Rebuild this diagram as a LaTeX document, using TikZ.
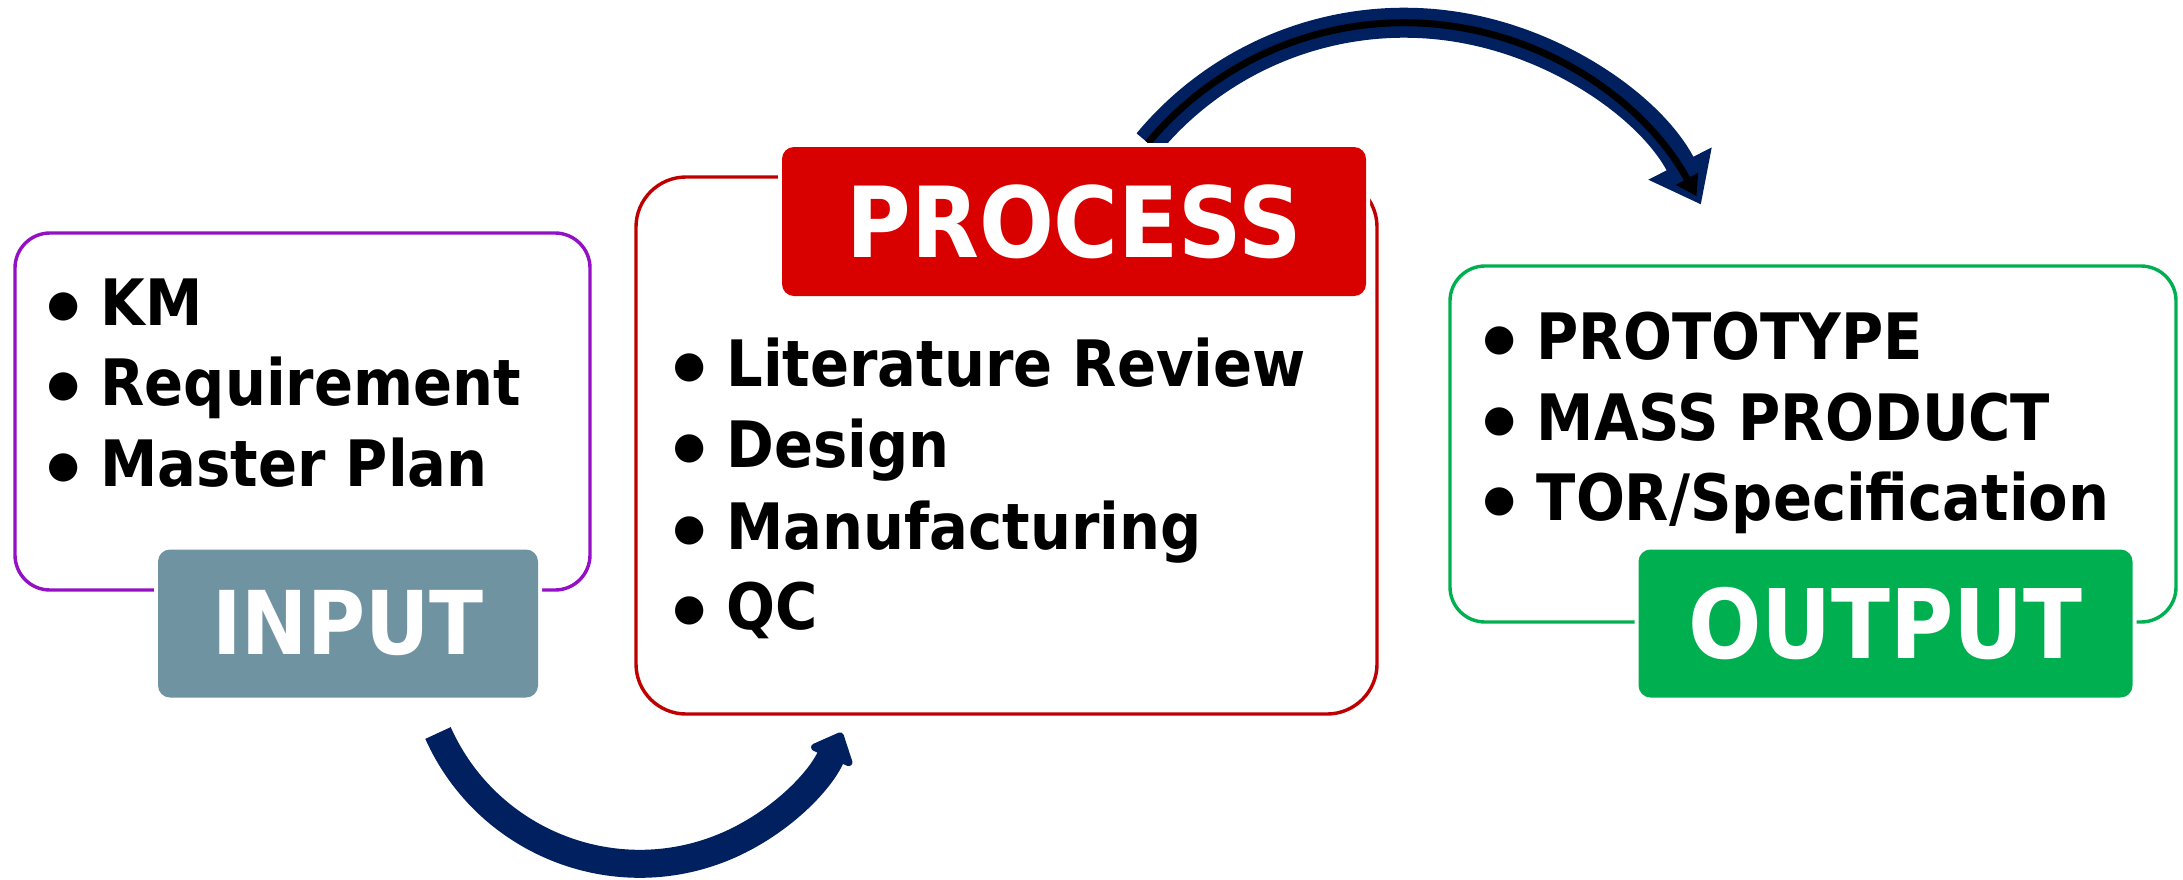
\documentclass[tikz,border=0pt]{standalone}
\usepackage{fontspec}
\usetikzlibrary{arrows.meta}
\newfontfamily\tfont{DejaVu Sans Condensed Bold}
\newfontfamily\bfont{DejaVu Sans Bold}
\definecolor{navy}{HTML}{002060}
\definecolor{inpurple}{HTML}{9410C4}
\definecolor{slate}{HTML}{7093A2}
\definecolor{procred}{HTML}{D90000}
\definecolor{procborder}{HTML}{C00000}
\definecolor{outgreen}{HTML}{00B050}
\begin{document}
\begin{tikzpicture}[x=1pt,y=-1pt,
  frame/.style={line width=3.4pt},
  lab/.style={preaction={draw=white,line width=8pt}, rounded corners=12pt, inner sep=0pt, text=white},
  item/.style={anchor=base west, inner sep=0pt, font=\tfont\fontsize{64}{70}\selectfont},
  bul/.style={anchor=base, inner sep=0pt, font=\bfont\fontsize{37}{40}\selectfont}
]
\useasboundingbox (0,0) rectangle (2183,879);
\fill[white] (0,0) rectangle (2183,879);

% frames
\draw[frame, draw=inpurple, rounded corners=35pt] (15,233) rectangle (590,590);
\draw[frame, draw=procborder, rounded corners=50pt] (636,177) rectangle (1377,714);
\draw[frame, draw=outgreen, rounded corners=35pt] (1450,266) rectangle (2176,622);

% top arrow (behind PROCESS label)
\coordinate (ta) at (1148,143);
\draw[navy, line width=30pt, -{Triangle[length=46pt,width=68pt]}] (ta) arc[start angle=-140.3, end angle=-27, radius=333];
\draw[black, line width=7pt, -{Triangle[length=20pt,width=24pt]}] (ta) arc[start angle=-140.3, end angle=-28.6, radius=333];

% labels
\node[lab, fill=slate, minimum width=380pt, minimum height=148pt, font=\tfont\fontsize{88}{90}\selectfont] (inp) at (348,623.5) {INPUT};
\node[lab, fill=procred, minimum width=584pt, minimum height=149pt, font=\tfont\fontsize{98}{100}\selectfont] (proc) at (1074,221.5) {PROCESS};
\node[lab, fill=outgreen, minimum width=494pt, minimum height=148pt, font=\tfont\fontsize{96}{96}\selectfont] (out) at (1885.5,623.5) {OUTPUT};

% bottom arrow
\coordinate (ba) at (438,733);
\draw[navy, line width=28pt, -{Triangle[length=30pt,width=52pt,round]}] (ba) arc[start angle=155.9, end angle=24, radius=221];

% items: input
\node[bul] (ib1) at (63.3,316) {●};
\node[item] (i1) at (100.3,325) {KM};
\node[bul] (ib2) at (63.3,396.7) {●};
\node[item] (i2) at (100.3,405.7) {Requirement};
\node[bul] (ib3) at (63.3,477.7) {●};
\node[item] (i3) at (100.3,486.7) {Master Plan};

% items: process
\node[bul] (pb1) at (689.3,377.7) {●};
\node[item] (p1) at (726.3,386.7) {Literature Review};
\node[bul] (pb2) at (689.3,458.7) {●};
\node[item] (p2) at (726.3,467.7) {Design};
\node[bul] (pb3) at (689.3,540.3) {●};
\node[item] (p3) at (726.3,549.3) {Manufacturing};
\node[bul] (pb4) at (689.3,620.3) {●};
\node[item] (p4) at (726.3,629.3) {QC};

% items: output
\node[bul] (ob1) at (1499.5,350) {●};
\node[item] (o1) at (1536.5,359) {PROTOTYPE};
\node[bul] (ob2) at (1499.5,431) {●};
\node[item] (o2) at (1536.5,440) {MASS PRODUCT};
\node[bul] (ob3) at (1499.5,511.7) {●};
\node[item] (o3) at (1536.5,520.7) {TOR/Specification};
\end{tikzpicture}
\end{document}
